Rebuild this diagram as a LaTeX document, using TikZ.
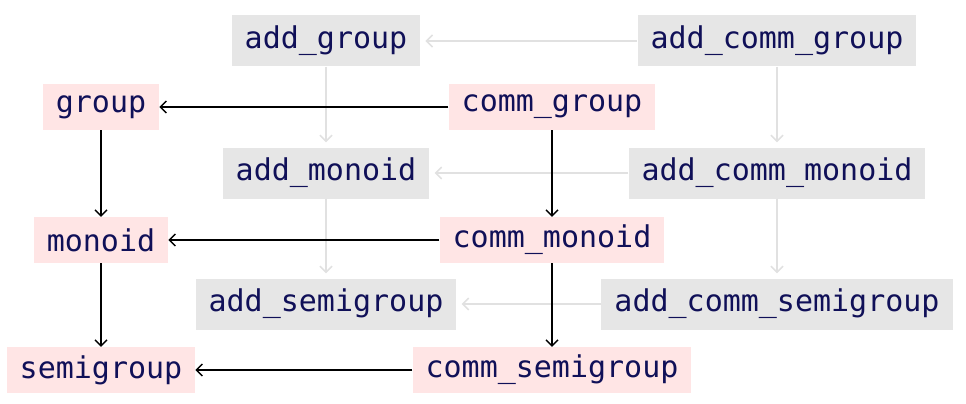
\documentclass[tikz,border=0pt]{standalone}
\usepackage{fontspec}
\setmonofont{DejaVu Sans Mono}
\usepackage{xcolor}
\usetikzlibrary{arrows.meta, positioning}

\definecolor{inkblue}{RGB}{16,16,88}
\definecolor{pinkfill}{RGB}{255,229,229}
\definecolor{grayfill}{RGB}{230,230,230}
\definecolor{grayline}{RGB}{225,225,225}

\begin{document}
\begin{tikzpicture}[x=1pt, y=-1pt,
        mult/.style={rectangle, fill=pinkfill, text=inkblue, font=\ttfamily\fontsize{30}{32}\selectfont, inner xsep=13pt, minimum height=46pt},
        addit/.style={rectangle, fill=grayfill, text=inkblue, font=\ttfamily\fontsize{30}{32}\selectfont, inner xsep=13pt, minimum height=51pt},
        arrow/.style={-{Straight Barb[length=6pt, width=12pt]}, line width=1.4pt, black},
        grayarrow/.style={-{Straight Barb[length=6pt, width=12pt]}, line width=1.6pt, grayline, shorten >=5pt}]
        \useasboundingbox (0,0) rectangle (966,404);

        % Multiplikative Klassen (links)
        \node[mult] (group) at (101,107) {group};
        \node[mult] (monoid) at (101,240) {monoid};
        \node[mult] (semigroup) at (101,370) {semigroup};
        \node[mult] (comm_group) at (552,107) {comm\_group};
        \node[mult] (comm_monoid) at (552,240) {comm\_monoid};
        \node[mult] (comm_semigroup) at (552,370) {comm\_semigroup};

        % Additive Klassen (rechts)
        \node[addit] (add_group) at (326,41) {add\_group};
        \node[addit] (add_monoid) at (326,173) {add\_monoid};
        \node[addit] (add_semigroup) at (326,304) {add\_semigroup};
        \node[addit] (add_comm_group) at (777,41) {add\_comm\_group};
        \node[addit] (add_comm_monoid) at (777,173) {add\_comm\_monoid};
        \node[addit] (add_comm_semigroup) at (777,304) {add\_comm\_semigroup};

        % Graue Pfeile
        \draw[grayarrow] (add_comm_group) -- (add_group);
        \draw[grayarrow] (add_comm_monoid) -- (add_monoid);
        \draw[grayarrow] (add_comm_semigroup) -- (add_semigroup);
        \draw[grayarrow] (add_group) -- (add_monoid);
        \draw[grayarrow] (add_monoid) -- (add_semigroup);
        \draw[grayarrow] (add_comm_group) -- (add_comm_monoid);
        \draw[grayarrow] (add_comm_monoid) -- (add_comm_semigroup);

        % Schwarze Pfeile
        \draw[arrow] (comm_group) -- (group);
        \draw[arrow] (comm_monoid) -- (monoid);
        \draw[arrow] (comm_semigroup) -- (semigroup);
        \draw[arrow] (group) -- (monoid);
        \draw[arrow] (monoid) -- (semigroup);
        \draw[arrow] (comm_group) -- (comm_monoid);
        \draw[arrow] (comm_monoid) -- (comm_semigroup);
    \end{tikzpicture}
\end{document}
